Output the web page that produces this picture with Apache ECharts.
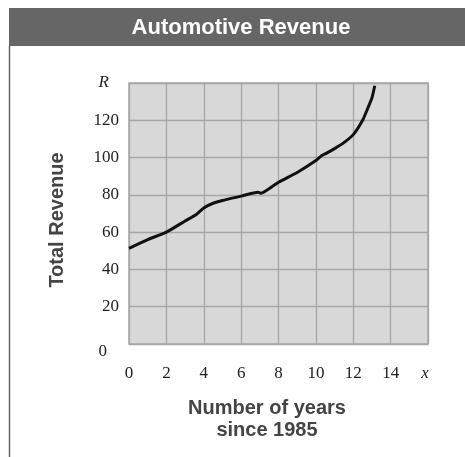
<!DOCTYPE html>
<html>
<head>
<meta charset="utf-8">
<script src="https://cdn.jsdelivr.net/npm/echarts@6/dist/echarts.min.js"></script>
<style>html,body{margin:0;padding:0;background:#fff;}#c{width:465px;height:457px;}</style>
</head>
<body>
<div id="c"></div>
<script>
var titleText = 'Automotive Revenue';
var xTitle = 'Number of years\nsince 1985';
var yTitle = 'Total Revenue';
var years = [0, 1, 2, 3, 3.6, 4, 4.5, 5, 6, 6.9, 7.05, 8, 9, 10, 10.3, 10.6, 11, 11.5, 12, 12.5, 12.8, 13, 13.15];
var revenue = [51.3, 56, 60, 66, 69.5, 73, 75.5, 77, 79.3, 81.4, 80.9, 86.8, 92, 98.4, 101, 102.5, 104.8, 108, 112.3, 120, 127, 132, 138.5];
var xTickLast = 'x';
var yTickLast = 'R';

var data = years.map(function (x, i) { return [x, revenue[i]]; });
var chart = echarts.init(document.getElementById('c'));
chart.setOption({
  animation: false,
  backgroundColor: '#fff',
  grid: {
    left: 129, right: 37, top: 83, bottom: 113,
    show: true, backgroundColor: '#d8d8d8', borderColor: '#a6a6a6', borderWidth: 1.5
  },
  xAxis: {
    type: 'value', min: 0, max: 16, interval: 2,
    axisLine: { show: false }, axisTick: { show: false },
    splitLine: { show: true, lineStyle: { color: '#a6a6a6', width: 1.3 } },
    axisLabel: {
      margin: 21, color: '#222', fontFamily: 'Liberation Serif', fontSize: 17,
      formatter: function (v) { return v === 16 ? '{i|' + xTickLast + '}' : String(v); },
      rich: { i: { fontStyle: 'italic', fontFamily: 'Liberation Serif', fontSize: 17, color: '#222', padding: [0, 6, 0, 0] } }
    }
  },
  yAxis: {
    type: 'value', min: 0, max: 140, interval: 20,
    axisLine: { show: false }, axisTick: { show: false },
    splitLine: { show: true, lineStyle: { color: '#a6a6a6', width: 1.3 } },
    axisLabel: {
      margin: 10, color: '#222', fontFamily: 'Liberation Serif', fontSize: 17,
      formatter: function (v) {
        if (v === 0) return '{z|0}';
        if (v === 140) return '{i|' + yTickLast + '}';
        return String(v);
      },
      rich: {
        z: { fontFamily: 'Liberation Serif', fontSize: 17, color: '#222', padding: [16, 12, 0, 0] },
        i: { fontStyle: 'italic', fontFamily: 'Liberation Serif', fontSize: 17, color: '#222', padding: [0, 10, 0, 0] }
      }
    }
  },
  series: [{
    type: 'line', data: data, smooth: 0.2, showSymbol: false,
    lineStyle: { color: '#111', width: 3 }
  }],
  graphic: [
    { type: 'rect', shape: { x: 9, y: 8, width: 456, height: 38 }, style: { fill: '#666666' } },
    { type: 'line', shape: { x1: 9.5, y1: 46, x2: 9.5, y2: 457 }, style: { stroke: '#666666', lineWidth: 1.5 } },
    { type: 'text', x: 241, y: 28, style: { text: titleText, fill: '#fff', font: 'bold 22px "Liberation Sans", Arial, sans-serif', align: 'center', verticalAlign: 'middle' } },
    { type: 'text', x: 57, y: 220, rotation: Math.PI / 2, style: { text: yTitle, fill: '#444', font: 'bold 20px "Liberation Sans", Arial, sans-serif', align: 'center', verticalAlign: 'middle' } },
    { type: 'text', x: 267, y: 419, style: { text: xTitle, fill: '#444', font: 'bold 20px "Liberation Sans", Arial, sans-serif', align: 'center', verticalAlign: 'middle', lineHeight: 22 } }
  ]
});
</script>
</body>
</html>
